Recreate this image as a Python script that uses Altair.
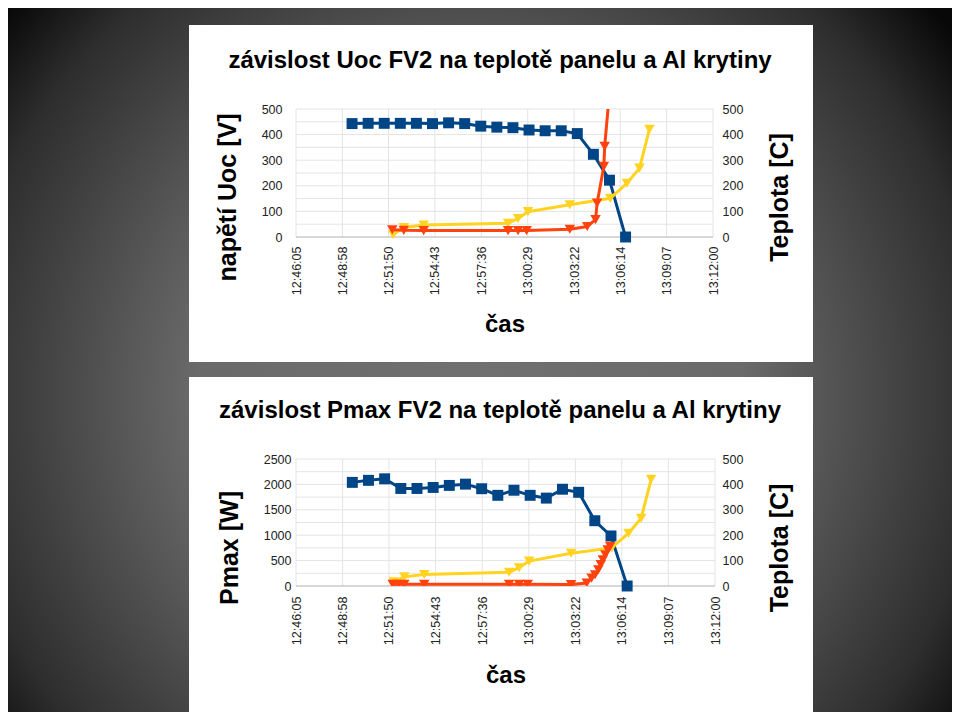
import altair as alt
import pandas as pd

# ---------------- data ----------------
tick_labels = ["12:46:05", "12:48:58", "12:51:50", "12:54:43", "12:57:36",
               "13:00:29", "13:03:22", "13:06:14", "13:09:07", "13:12:00"]

blue_times = ["12:49:34", "12:50:34", "12:51:34", "12:52:34", "12:53:34", "12:54:34",
              "12:55:34", "12:56:34", "12:57:34", "12:58:34", "12:59:34", "13:00:34",
              "13:01:34", "13:02:34", "13:03:34", "13:04:34", "13:05:34", "13:06:34"]
uoc_values = [443, 444, 444, 444, 444, 443, 446, 443, 433, 429, 427, 418, 415, 415, 404, 323, 222, 0]
pmax_values = [2040, 2080, 2110, 1920, 1920, 1940, 1980, 2005, 1915, 1785, 1885, 1785,
               1730, 1905, 1845, 1285, 985, 0]

temp_times = ["12:52:07", "12:52:47", "12:54:01", "12:59:16", "12:59:53", "13:00:30",
              "13:03:06", "13:05:37", "13:06:39", "13:07:26", "13:08:03"]
temp_top = [10, 37, 47, 54, 72, 99, 126, 151, 210, 269, 421]
temp_bottom = [17, 36, 45, 54, 72, 98, 129, 150, 208, 267, 420]

red_top_times = ["12:52:04", "12:52:47", "12:54:01", "12:59:16", "12:59:53", "13:00:25",
                 "13:03:06", "13:04:11", "13:04:42", "13:04:48", "13:05:13", "13:05:16", "13:05:37"]
red_top_values = [28, 26, 25, 25, 25, 25, 30, 41, 68, 133, 276, 354, 600]

red_bottom_times = ["12:52:04", "12:52:25", "12:52:47", "12:54:01", "12:59:16", "12:59:53",
                    "13:00:25", "13:03:06", "13:04:04", "13:04:22", "13:04:35", "13:04:47",
                    "13:04:56", "13:05:04", "13:05:13", "13:05:22", "13:05:31"]
red_bottom_values = [7, 7, 7, 7, 7, 7, 7, 6, 12, 31, 44, 64, 84, 103, 123, 143, 156]

uoc_ticks = [0, 100, 200, 300, 400, 500]
pmax_ticks = [0, 500, 1000, 1500, 2000, 2500]
temp_ticks = [0, 100, 200, 300, 400, 500]
uoc_grid = [0, 50, 100, 150, 200, 250, 300, 350, 400, 450, 500]
pmax_grid = [0, 250, 500, 750, 1000, 1250, 1500, 1750, 2000, 2250, 2500]

title_top = "závislost Uoc FV2 na teplotě panelu a Al krytiny"
title_bottom = "závislost Pmax FV2 na teplotě panelu a Al krytiny"
x_title = "čas"
y_title_top = "napětí Uoc [V]"
y_title_bottom = "Pmax [W]"
y_title_right = "Teplota [C]"

# ---------------- styling ----------------
FONT = "Liberation Sans"
BLUE = "#004586"
RED = "#ff420e"
YELLOW = "#ffd320"
GRID = "#e4e4e4"
LABEL = "#222222"

W_TOP, H_TOP = 417, 128
W_BOT, H_BOT = 419, 127
OX, OY = 288, 101          # top plot origin inside the 944x704 canvas
CANVAS_W, CANVAS_H = 944, 704


def secs(s):
    h, m, x = (int(p) for p in s.split(":"))
    h0, m0, x0 = (int(p) for p in tick_labels[0].split(":"))
    return (h * 3600 + m * 60 + x) - (h0 * 3600 + m0 * 60 + x0)


tick_vals = [secs(s) for s in tick_labels]
h0, m0, s0 = (int(p) for p in tick_labels[0].split(":"))
label_expr = f"timeFormat(datetime(2000, 0, 1, {h0}, {m0}, {s0} + datum.value), '%H:%M:%S')"

one = pd.DataFrame({"k": [0]})


def x_enc(label_pad, title_pad):
    return alt.X(
        "t:Q",
        scale=alt.Scale(domain=[0, tick_vals[-1]], nice=False, zero=False),
        axis=alt.Axis(values=tick_vals, labelExpr=label_expr, labelAngle=270,
                      labelFlush=False, labelOverlap=False, grid=False, domain=False,
                      ticks=False, labelFont=FONT, labelFontSize=12.5, labelColor=LABEL,
                      labelPadding=label_pad, title=x_title, titleFont=FONT,
                      titleFontSize=24, titleFontWeight="bold", titleColor="black",
                      titlePadding=title_pad, zindex=1),
    )


def y_axis(orient, values, title, label_pad, title_pad, title_y):
    return alt.Axis(orient=orient, values=values, title=title, titleAngle=270,
                    format="d", titleY=title_y,
                    grid=False, domain=False, ticks=False, labelFont=FONT,
                    labelFontSize=12.5, labelColor=LABEL, labelPadding=label_pad,
                    titleFont=FONT, titleFontSize=25, titleFontWeight="bold",
                    titleColor="black", titlePadding=title_pad, zindex=1)


def panel_chart(width, height, yvals, ydom, ygrid, ytitle, series_left,
                temp_t, temp_v, red_t, red_v, title, xe, left_pad, right_pad,
                panel_y, title_y, with_bg):
    layers = []
    if with_bg:
        bg = alt.Chart(one).mark_rect(fill={
            "gradient": "radial",
            "x1": 0.49, "y1": 0.54, "r1": 0,
            "x2": 0.49, "y2": 0.54, "r2": 0.64,
            "stops": [
                {"offset": 0.0, "color": "#707070"},
                {"offset": 0.45, "color": "#6a6a6a"},
                {"offset": 0.77, "color": "#3a3a3a"},
                {"offset": 0.85, "color": "#2e2e2e"},
                {"offset": 1.0, "color": "#080808"},
            ],
        }).encode(x=alt.value(-OX), x2=alt.value(CANVAS_W - OX),
                  y=alt.value(-OY), y2=alt.value(CANVAS_H - OY))
        layers.append(bg)
    panel = alt.Chart(one).mark_rect(color="white").encode(
        x=alt.value(181 - OX), x2=alt.value(805 - OX),
        y=alt.value(panel_y[0]), y2=alt.value(panel_y[1]))
    layers.append(panel)

    vgrid = alt.Chart(pd.DataFrame({"t": tick_vals})).mark_rule(
        color=GRID, strokeWidth=1).encode(x=xe)
    hgrid = alt.Chart(pd.DataFrame({"g": ygrid})).mark_rule(strokeWidth=1).encode(
        y=alt.Y("g:Q", scale=alt.Scale(domain=ydom, nice=False), axis=None),
        color=alt.condition("datum.g == 0", alt.value("#b0b0b0"), alt.value(GRID)))
    ttl = alt.Chart(one).mark_text(
        text=title, font=FONT, fontSize=24, fontWeight="bold", color="black",
        align="center", baseline="alphabetic").encode(
        x=alt.value(204), y=alt.value(-41))
    layers += [vgrid, hgrid, ttl]

    blue = alt.Chart(series_left).mark_line(
        color=BLUE, strokeWidth=3,
        point=alt.OverlayMarkDef(shape="square", size=120, filled=True, color=BLUE, opacity=1)
    ).encode(x=xe, y=alt.Y("v:Q", scale=alt.Scale(domain=ydom, nice=False),
                           axis=y_axis("left", yvals, ytitle, left_pad[0], left_pad[1], title_y)))
    yellow = alt.Chart(pd.DataFrame({"t": [secs(s) for s in temp_t], "v": temp_v})).mark_line(
        color=YELLOW, strokeWidth=3,
        point=alt.OverlayMarkDef(shape="triangle-down", size=110, filled=True, color=YELLOW, opacity=1)
    ).encode(x=xe, y=alt.Y("v:Q", scale=alt.Scale(domain=[0, 500], nice=False),
                           axis=y_axis("right", temp_ticks, y_title_right, right_pad[0],
                                       right_pad[1], title_y)))
    red = alt.Chart(pd.DataFrame({"t": [secs(s) for s in red_t], "v": red_v})).mark_line(
        color=RED, strokeWidth=3, clip=True,
        point=alt.OverlayMarkDef(shape="triangle-down", size=110, filled=True, color=RED,
                                 opacity=1, clip=True)
    ).encode(x=xe, y=alt.Y("v:Q", scale=alt.Scale(domain=[0, 500], nice=False), axis=None))
    layers += [blue, yellow, red]

    return alt.layer(*layers).resolve_scale(y="independent").properties(
        width=width, height=height)


df_uoc = pd.DataFrame({"t": [secs(s) for s in blue_times], "v": uoc_values})
df_pmax = pd.DataFrame({"t": [secs(s) for s in blue_times], "v": pmax_values})

top = panel_chart(W_TOP, H_TOP, uoc_ticks, [0, 500], uoc_grid, y_title_top, df_uoc,
                  temp_times, temp_top, red_top_times, red_top_values, title_top,
                  x_enc(9, 18), (14, 21), (9, 50), (25 - 8 - OY, 362 - 8 - OY),
                  H_TOP / 2 + 24, True)
bottom = panel_chart(W_BOT, H_BOT, pmax_ticks, [0, 2500], pmax_grid, y_title_bottom, df_pmax,
                     temp_times, temp_bottom, red_bottom_times, red_bottom_values, title_bottom,
                     x_enc(10, 19), (5, 21), (7, 50), (-82, 253), H_BOT / 2 + 25, False)

chart = alt.vconcat(top, bottom, spacing=222, bounds="flush").properties(
    padding=0, background="#000000"
).configure_view(strokeWidth=0)

chart.save("out.html", embed_options={"renderer": "svg", "actions": False})
